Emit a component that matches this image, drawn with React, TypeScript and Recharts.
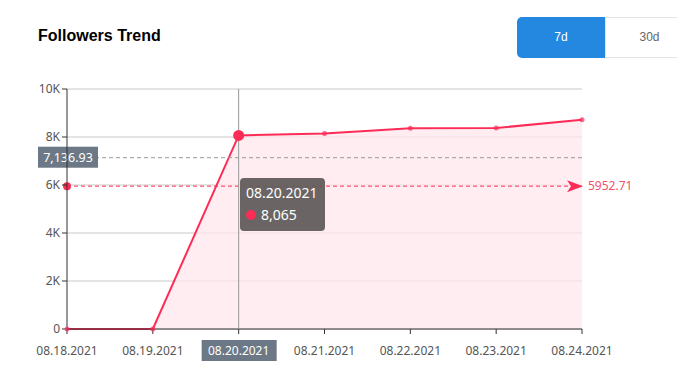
import React from 'react'
import {
  ComposedChart,
  Area,
  XAxis,
  YAxis,
  CartesianGrid,
  Tooltip,
  ReferenceLine,
} from 'recharts'

const dates = ['08.18.2021', '08.19.2021', '08.20.2021', '08.21.2021', '08.22.2021', '08.23.2021', '08.24.2021']
const followers = [0, 0, 8065, 8150, 8360, 8374, 8720]
const yTicks = [0, 2000, 4000, 6000, 8000, 10000]
const averageValue = 5952.71
const pointerValue = 7136.93
const activeIndex = 2

const data = dates.map((d, i) => ({ date: d, followers: followers[i] }))

const RED = '#fd2c57'
const SLATE = '#6c7885'
const FONT = '"Noto Sans", "DejaVu Sans", sans-serif'

const formatK = (v: number) => (v === 0 ? '0' : `${v / 1000}K`)

const XTick = (props: any) => {
  const { x, y, payload, index } = props
  const active = index === activeIndex
  return (
    <g transform={`translate(${x},${y})`}>
      {active && <rect x={-37} y={4} width={75} height={21} fill={SLATE} />}
      <text
        x={0}
        y={19}
        textAnchor="middle"
        fontSize={12}
        fontFamily={FONT}
        fill={active ? '#fff' : '#555'}
      >
        {payload.value}
      </text>
    </g>
  )
}

const PointerLabel = (props: any) => {
  const { viewBox } = props
  const y = viewBox.y
  return (
    <g>
      <rect x={38} y={y - 11} width={60} height={21} fill={SLATE} />
      <text x={68} y={y + 4} textAnchor="middle" fontSize={12.5} fontFamily={FONT} fill="#fff">
        {pointerValue.toLocaleString('en-US', { minimumFractionDigits: 2 })}
      </text>
    </g>
  )
}

const AverageLabel = (props: any) => {
  const { viewBox } = props
  const x0 = viewBox.x
  const x1 = viewBox.x + viewBox.width
  const y = viewBox.y
  return (
    <g>
      <circle cx={x0} cy={y} r={4} fill={RED} />
      <path
        d={`M${x1 + 1},${y} L${x1 - 15},${y - 6} L${x1 - 11},${y} L${x1 - 15},${y + 6} Z`}
        fill={RED}
      />
      <text x={x1 + 6} y={y + 4} fontSize={12} fontFamily={FONT} fill="#f0506e">
        {averageValue}
      </text>
    </g>
  )
}

const TipContent = (props: any) => {
  const { active, payload } = props
  if (!active || !payload || !payload.length) return null
  const p = payload[0]
  return (
    <div
      style={{
        background: 'rgba(98,94,92,0.95)',
        borderRadius: 4,
        padding: '4px 7px 5px 6px',
        color: '#fff',
        fontFamily: FONT,
        fontSize: 14,
        lineHeight: '22px',
      }}
    >
      <div>{p.payload.date}</div>
      <div style={{ display: 'flex', alignItems: 'center' }}>
        <span
          style={{
            display: 'inline-block',
            width: 10,
            height: 10,
            borderRadius: 5,
            background: RED,
            marginRight: 5,
          }}
        />
        {p.value.toLocaleString('en-US')}
      </div>
    </div>
  )
}

export default function App() {
  return (
    <div
      style={{
        position: 'absolute',
        left: 0,
        top: 0,
        width: 677,
        height: 376,
        overflow: 'hidden',
        background: '#fff',
      }}
    >
      <div
        style={{
          position: 'absolute',
          left: 38,
          top: 27,
          fontFamily: '"Liberation Sans", Arial, sans-serif',
          fontWeight: 'bold',
          fontSize: 16,
          color: '#000',
        }}
      >
        Followers Trend
      </div>
      <div
        style={{
          position: 'absolute',
          left: 517,
          top: 17,
          width: 88,
          height: 41,
          background: '#2588e0',
          borderRadius: '5px 0 0 5px',
          color: '#fff',
          fontFamily: '"Liberation Sans", Arial, sans-serif',
          fontSize: 12,
          lineHeight: '41px',
          textAlign: 'center',
        }}
      >
        7d
      </div>
      <div
        style={{
          position: 'absolute',
          left: 605,
          top: 17,
          width: 87,
          height: 39,
          border: '1px solid #e3e3e3',
          color: '#666',
          fontFamily: '"Liberation Sans", Arial, sans-serif',
          fontSize: 12,
          lineHeight: '39px',
          textAlign: 'center',
        }}
      >
        30d
      </div>
      <div style={{ position: 'absolute', left: 0, top: 0 }}>
        <ComposedChart
          width={677}
          height={376}
          data={data}
          margin={{ top: 89, right: 95, bottom: 17, left: 27 }}
        >
          <CartesianGrid vertical={false} stroke="#c8c8c8" />
          <XAxis
            dataKey="date"
            height={30}
            interval={0}
            tick={<XTick />}
            tickSize={5}
            stroke="#333"
            tickLine={{ stroke: '#333' }}
            padding={{ left: 0, right: 0 }}
          />
          <YAxis
            width={40}
            domain={[0, 10000]}
            ticks={yTicks}
            tickFormatter={formatK}
            tickSize={5}
            stroke="#333"
            tick={{ fill: '#555', fontSize: 12, fontFamily: FONT }}
          />
          <Area
            type="linear"
            dataKey="followers"
            stroke={RED}
            strokeWidth={2}
            fill="#ffe6ec"
            fillOpacity={0.7}
            dot={{ r: 2.5, fill: RED, stroke: RED, strokeWidth: 0 }}
            activeDot={{ r: 5.5, fill: RED, stroke: RED, strokeWidth: 0 }}
            isAnimationActive={false}
          />
          <ReferenceLine
            y={pointerValue}
            stroke="#999"
            strokeDasharray="4 3"
            label={<PointerLabel />}
          />
          <ReferenceLine
            y={averageValue}
            stroke={RED}
            strokeDasharray="4 3"
            label={<AverageLabel />}
          />
          <Tooltip
            active
            defaultIndex={activeIndex}
            isAnimationActive={false}
            position={{ x: 240, y: 178 }}
            cursor={{ stroke: '#999', strokeWidth: 1 }}
            content={<TipContent />}
          />
        </ComposedChart>
      </div>
    </div>
  )
}
